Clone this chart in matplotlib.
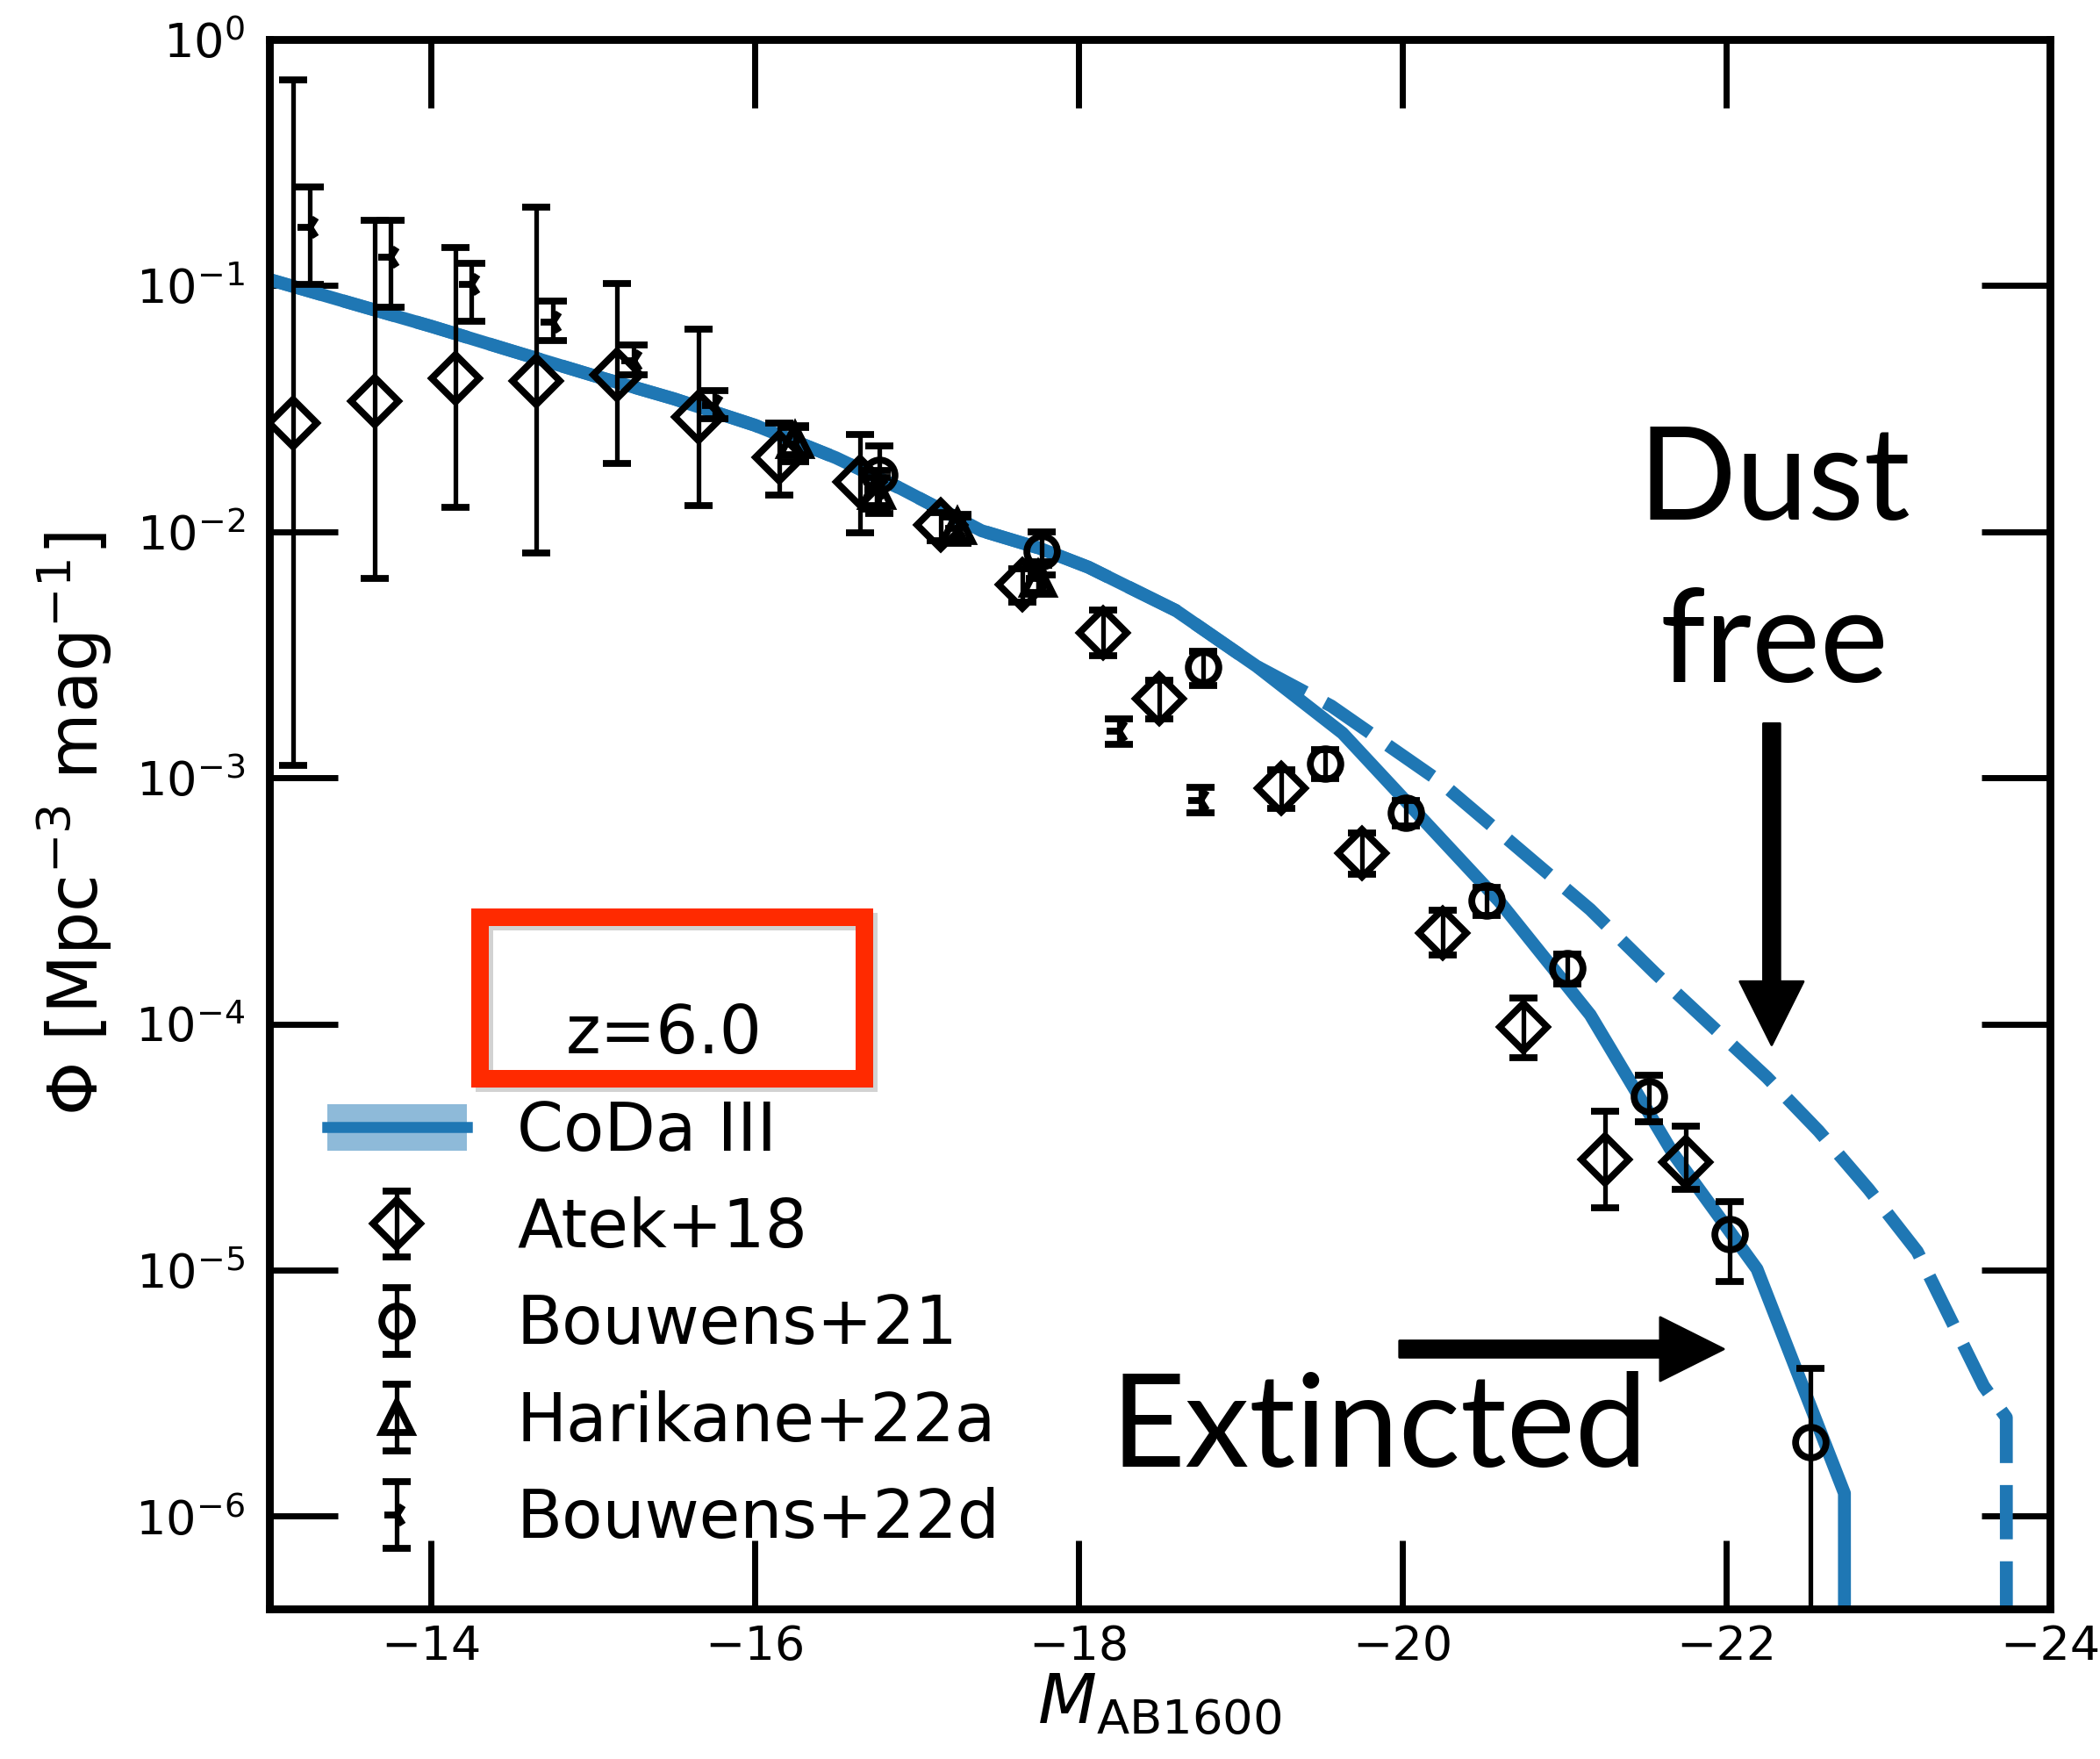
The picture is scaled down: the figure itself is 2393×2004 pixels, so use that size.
import numpy as np
import matplotlib.pyplot as plt
from matplotlib.lines import Line2D
from matplotlib.patches import Patch, Rectangle, FancyArrowPatch
from matplotlib.ticker import NullLocator

# CoDa III UV luminosity function, dust extincted (solid) and dust free (dashed)
muv_ext = [-13.0, -13.5, -14.0, -14.5, -15.0, -15.5, -16.0, -16.5, -16.9, -17.4,
           -17.75, -18.06, -18.6, -19.1, -19.63, -20.6, -21.16, -21.67, -22.19,
           -22.73, -23.25]
phi_ext = [0.106, 0.0851, 0.0684, 0.0543, 0.0432, 0.0347, 0.0271, 0.0200, 0.0150,
           0.0101, 0.00861, 0.00718, 0.00479, 0.00284, 0.00152, 3.14e-4, 1.09e-4,
           2.99e-5, 1.01e-5, 1.24e-6, 0.0]

muv_free = [-13.0, -13.5, -14.0, -14.5, -15.0, -15.5, -16.0, -16.5, -16.9, -17.4,
            -17.75, -18.06, -18.6, -19.1, -19.56, -20.22, -21.16, -21.56, -22.25,
            -22.57, -22.88, -23.18, -23.59, -23.73, -24.2]
phi_free = [0.106, 0.0851, 0.0684, 0.0543, 0.0432, 0.0347, 0.0271, 0.0200, 0.0150,
            0.0101, 0.00861, 0.00718, 0.00479, 0.00284, 1.96e-3, 9.79e-4, 2.92e-4,
            1.61e-4, 6.08e-5, 3.68e-5, 2.13e-5, 1.19e-5, 3.38e-6, 2.52e-6, 0.0]

# Atek+18 (lower / upper bounds of the error bars)
muv_atek = [-13.15, -13.65, -14.15, -14.65, -15.15, -15.65, -16.15, -16.65, -17.15,
            -17.65, -18.15, -18.5, -19.25, -19.75, -20.25, -20.75, -21.25, -21.75]
phi_atek = [0.0277, 0.0339, 0.0420, 0.0409, 0.0436, 0.0292, 0.0200, 0.0160, 0.0107,
            0.00609, 0.00388, 0.00210, 9.05e-4, 4.96e-4, 2.34e-4, 9.73e-5, 2.81e-5,
            2.74e-5]
low_atek = [0.00112, 0.00648, 0.0126, 0.00822, 0.0190, 0.0128, 0.0141, 0.00993,
            0.0092, 0.00518, 0.00313, 0.00174, 7.5e-4, 4.06e-4, 1.91e-4, 7.29e-5,
            1.79e-5, 2.13e-5]
high_atek = [0.687, 0.184, 0.143, 0.209, 0.102, 0.0667, 0.0277, 0.0248, 0.0120,
             0.00708, 0.0048, 0.0025, 0.00108, 5.99e-4, 2.9e-4, 1.28e-4, 4.42e-5,
             3.85e-5]

# Bouwens+21
muv_b21 = [-16.77, -17.77, -18.77, -19.52, -20.02, -20.52, -21.02, -21.52, -22.02, -22.52]
phi_b21 = [1.71e-2, 8.36e-3, 2.82e-3, 1.147e-3, 7.24e-4, 3.17e-4, 1.69e-4, 5.1e-5,
           1.4e-5, 2e-6]
err_b21 = [5.26e-3, 1.66e-3, 4.4e-4, 1.57e-4, 8.7e-5, 4.1e-5, 2.4e-5, 1.1e-5, 5e-6, 2e-6]

# Harikane+22a
muv_h22 = [-16.25, -16.75, -17.25, -17.75]
phi_h22 = [0.0234, 0.0146, 0.0105, 0.0064]
low_h22 = [0.0205, 0.0128, 0.0093, 0.0056]
high_h22 = [0.0265, 0.0166, 0.0118, 0.0073]

# Bouwens+22d
muv_b22 = [-13.25, -13.75, -14.25, -14.75, -15.25, -15.75, -16.25, -16.75, -17.25,
           -17.75, -18.25, -18.75]
phi_b22 = [0.173, 0.131, 0.101, 0.071, 0.0494, 0.0327, 0.0227, 0.0148, 0.0103,
           0.00648, 0.00155, 8.1e-4]
low_b22 = [0.101, 0.0815, 0.0719, 0.0596, 0.0436, 0.0288, 0.0193, 0.0124, 0.00897,
           0.00565, 0.00137, 7.22e-4]
high_b22 = [0.252, 0.184, 0.123, 0.0868, 0.0574, 0.0375, 0.0270, 0.0177, 0.0115,
            0.00753, 0.00174, 9.18e-4]


def asym(phi, low, high):
    phi, low, high = map(np.asarray, (phi, low, high))
    return [phi - low, high - phi]


blue = '#1f77b4'
fig = plt.figure(figsize=(2393 / 200, 2004 / 200), dpi=200)
ax = fig.add_axes([0.1282, 0.0853, 0.848, 0.8922])

ax.plot(muv_ext, phi_ext, color=blue, lw=5.3, zorder=2)
ax.plot(muv_free, phi_free, color=blue, lw=5.3, dashes=(4.2, 1.7), zorder=2)

eb = dict(ls='none', color='k', mfc='none', mec='k', mew=2.8, elinewidth=1.9,
          capsize=5.8, capthick=2.8, zorder=3)
h_atek = ax.errorbar(muv_atek, phi_atek, yerr=asym(phi_atek, low_atek, high_atek),
                     marker='D', ms=13.5, **eb)
h_b21 = ax.errorbar(muv_b21, phi_b21, yerr=err_b21, marker='o', ms=12.5, **eb)
h_h22 = ax.errorbar(muv_h22, phi_h22, yerr=asym(phi_h22, low_h22, high_h22),
                    marker='^', ms=12.5, **eb)
h_b22 = ax.errorbar(muv_b22, phi_b22, yerr=asym(phi_b22, low_b22, high_b22),
                    marker='3', ms=10, **eb)

ax.set_yscale('log')
ax.set_xlim(-13, -24)
ax.set_ylim(4.2e-7, 1)
ax.yaxis.set_minor_locator(NullLocator())
ax.set_xticks([-14, -16, -18, -20, -22, -24])
ax.tick_params(direction='in', length=28, width=2.5, top=True, right=True,
               labelsize=19.5)
ax.tick_params(axis='x', pad=6)
ax.tick_params(axis='y', pad=10)
for s in ax.spines.values():
    s.set_linewidth(3.2)

ax.set_xlabel(r'$M_{\rm AB1600}$', fontsize=28, labelpad=1)
ax.set_ylabel(r'$\Phi$ [Mpc$^{-3}$ mag$^{-1}$]', fontsize=28, labelpad=8.5)

coda = (Patch(facecolor=blue, alpha=0.5, lw=0), Line2D([], [], color=blue, lw=4.5))
leg = ax.legend([coda, h_atek, h_b21, h_h22, h_b22],
                ['CoDa III', 'Atek+18', 'Bouwens+21', 'Harikane+22a', 'Bouwens+22d'],
                title='z=6.0', title_fontsize=27.3, fontsize=27.3, frameon=False,
                loc='lower left', bbox_to_anchor=(0.0176, 0.0193), borderaxespad=0,
                handlelength=2.1, handletextpad=0.75, labelspacing=0.48)

# red box around the redshift label
for off, col, a in [(5, '0.5', 0.35), (0, '#ff2a00', 1.0)]:
    fig.patches.append(Rectangle((0.2286 + off / 2393, 0.3867 - off / 2004), 0.1830, 0.0918,
                                 transform=fig.transFigure, fill=False, ec=col,
                                 lw=7.2, alpha=a, zorder=10))

big = dict(fontsize=53, family='Lato', transform=ax.transAxes, ha='center',
           va='baseline')
ax.text(0.845, 0.694, 'Dust', **big)
ax.text(0.845, 0.5905, 'free', **big)
ax.text(0.6234, 0.0905, 'Extincted', **big)

arrow = 'simple,head_length=26,head_width=26,tail_width=6.8'
for tail, tip in [((0.8437, 0.5642), (0.8437, 0.3594)),
                  ((0.6347, 0.1656), (0.8167, 0.1656))]:
    ax.add_patch(FancyArrowPatch(tail, tip, transform=ax.transAxes,
                                 arrowstyle=arrow, mutation_scale=1, color='k',
                                 shrinkA=0, shrinkB=0, zorder=5))

fig.savefig('out.png', dpi=200)
